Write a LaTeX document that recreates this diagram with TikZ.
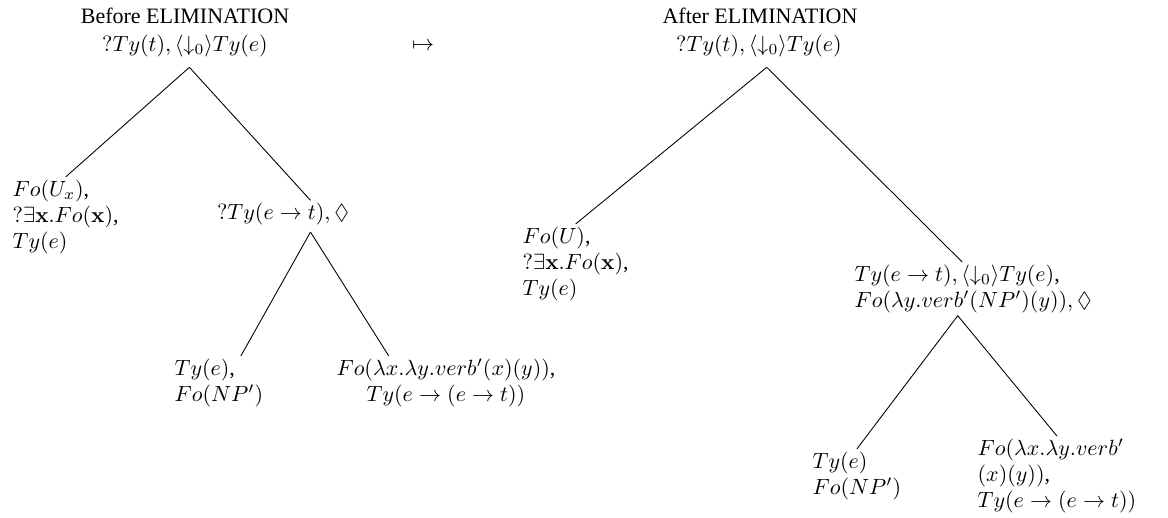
\documentclass[tikz,border=0pt]{standalone}
\usepackage[no-math]{fontspec}
\setmainfont{Liberation Serif}
\usepackage{amssymb}
\begin{document}
\begin{tikzpicture}[x=0.4545pt,y=-0.4545pt,
  ttl/.style={inner sep=0pt, font=\fontsize{10}{12}\selectfont},
  tn/.style={inner sep=1pt, align=left, font=\fontsize{10}{12}\selectfont},
  br/.style={line width=0.4pt}]
\useasboundingbox (0,0) rectangle (1168,518);
% titles and arrow
\node[ttl] (t1) at (185,16) {Before ELIMINATION};
\node[ttl] (t2) at (760,16) {After ELIMINATION};
\node[ttl] (map) at (423,46) {$\mapsto$};
% left tree
\node[tn] (L0) at (185,46) {$?Ty(t),\langle{\downarrow_0}\rangle Ty(e)$};
\node[tn, anchor=north west] (L1) at (10,177) {$Fo(U_x)$,\\ $?\exists\mathbf{x}.Fo(\mathbf{x})$,\\ $Ty(e)$};
\node[tn] (L2) at (283,214) {$?Ty(e\rightarrow t),\Diamond$};
\node[tn, anchor=north west] (L3) at (172,356) {$Ty(e)$,\\ $Fo(NP')$};
\node[tn, anchor=north, align=center] (L4) at (446,356) {$Fo(\lambda x.\lambda y.verb'(x)(y))$,\\ $Ty(e\rightarrow(e\rightarrow t))$};
\draw[br] ([xshift=2pt,yshift=-3.5pt]L0.south) -- (L1.north);
\draw[br] ([xshift=2pt,yshift=-3.5pt]L0.south) -- ([xshift=12.5pt]L2.north);
\draw[br] ([xshift=12.5pt,yshift=-2pt]L2.south) -- ([xshift=10pt]L3.north);
\draw[br] ([xshift=12.5pt,yshift=-2pt]L2.south) -- ([xshift=-26pt]L4.north);
% right tree
\node[tn] (R0) at (759,46) {$?Ty(t),\langle{\downarrow_0}\rangle Ty(e)$};
\node[tn, anchor=north west] (R1) at (520,224) {$Fo(U)$,\\ $?\exists\mathbf{x}.Fo(\mathbf{x})$,\\ $Ty(e)$};
\node[tn, anchor=north west] (R2) at (852,262) {$Ty(e\rightarrow t),\langle{\downarrow_0}\rangle Ty(e)$,\\ $Fo(\lambda y.verb'(NP')(y)),\Diamond$};
\node[tn, anchor=north west] (R3) at (810,449) {$Ty(e)$\\ $Fo(NP')$};
\node[tn, anchor=north west] (R4) at (975,436) {$Fo(\lambda x.\lambda y.verb'$\\ $(x)(y))$,\\ $Ty(e\rightarrow(e\rightarrow t))$};
\draw[br] ([xshift=3.5pt,yshift=-3.5pt]R0.south) -- (R1.north);
\draw[br] ([xshift=3.5pt,yshift=-3.5pt]R0.south) -- ([xshift=-5pt]R2.north);
\draw[br] ([xshift=-7pt]R2.south) -- (R3.north);
\draw[br] ([xshift=-7pt]R2.south) -- (R4.north);
\end{tikzpicture}
\end{document}
